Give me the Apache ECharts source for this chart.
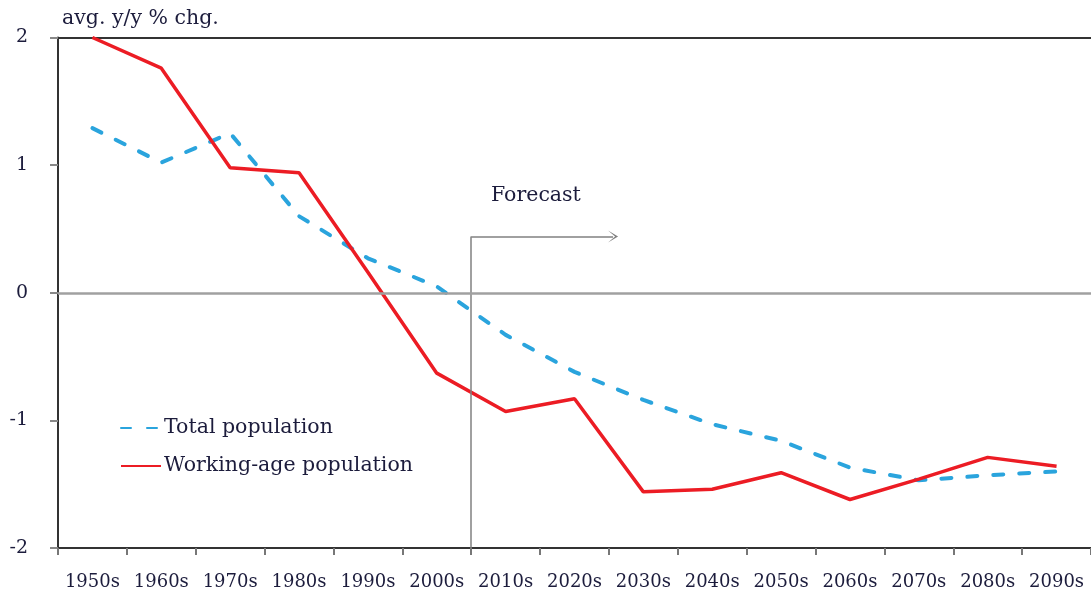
<!DOCTYPE html>
<html>
<head>
<meta charset="utf-8">
<script src="https://cdn.jsdelivr.net/npm/echarts@6/dist/echarts.min.js"></script>
<style>html,body{margin:0;padding:0;background:#fff}#c{width:1091px;height:597px}</style>
</head>
<body>
<div id="c"></div>
<script>
const categories = ['1950s','1960s','1970s','1980s','1990s','2000s','2010s','2020s','2030s','2040s','2050s','2060s','2070s','2080s','2090s'];
const totalPopulation = [1.29, 1.02, 1.25, 0.60, 0.27, 0.05, -0.33, -0.62, -0.84, -1.03, -1.16, -1.37, -1.47, -1.43, -1.40];
const workingAgePopulation = [2.00, 1.76, 0.98, 0.94, 0.16, -0.63, -0.93, -0.83, -1.56, -1.54, -1.41, -1.62, -1.46, -1.29, -1.36];
const yTicks = { min: -2, max: 2, interval: 1 };
const forecastStart = 6;      // boundary between 2000s and 2010s (category index units)
const forecastArrowEnd = 8.06;
const forecastLevel = 0.44;

const serif = '"DejaVu Serif", "Liberation Serif", serif';
const textColor = '#1c1c3c';

const chart = echarts.init(document.getElementById('c'));
chart.setOption({
  animation: false,
  backgroundColor: '#fff',
  grid: { left: 58, right: -2, top: 37.5, bottom: 49, containLabel: false },
  legend: {
    orient: 'vertical', left: 115, top: 411, padding: 5,
    itemWidth: 40, itemHeight: 14, itemGap: 14,
    itemStyle: { opacity: 0 },
    textStyle: { fontFamily: serif, fontSize: 20.5, color: textColor, lineHeight: 24, padding: [0, 0, 0, -2] },
    data: ['Total population', 'Working-age population']
  },
  xAxis: [
    {
      type: 'category', data: categories, position: 'bottom', boundaryGap: true,
      axisLine: { show: true, onZero: false, lineStyle: { color: '#333', width: 2 } },
      axisTick: { show: true, length: 7, lineStyle: { color: '#777', width: 2 } },
      axisLabel: { fontFamily: serif, fontSize: 18, color: textColor, margin: 25, interval: 0 },
      splitLine: { show: false }
    },
    {
      type: 'category', data: categories, position: 'top', boundaryGap: true,
      axisLine: { show: true, onZero: false, lineStyle: { color: '#333', width: 2 } },
      axisTick: { show: false }, axisLabel: { show: false }, splitLine: { show: false }
    },
    { type: 'value', min: 0, max: categories.length, show: false }
  ],
  yAxis: {
    type: 'value', min: yTicks.min, max: yTicks.max, interval: yTicks.interval,
    axisLine: { show: true, onZero: false, lineStyle: { color: '#333', width: 2 } },
    axisTick: { show: true, length: 8, lineStyle: { color: '#888', width: 2 } },
    axisLabel: { fontFamily: serif, fontSize: 19, color: textColor, margin: 30 },
    splitLine: { show: false }
  },
  series: [
    {
      name: 'Total population', type: 'line', data: totalPopulation,
      symbol: 'none', smooth: false,
      lineStyle: { color: '#2aa4dd', width: 4, type: [10, 16], cap: 'round' },
      itemStyle: { color: '#2aa4dd' }, z: 3
    },
    {
      name: 'Working-age population', type: 'line', data: workingAgePopulation,
      symbol: 'none', smooth: false,
      lineStyle: { color: '#ec1c24', width: 3.5 },
      itemStyle: { color: '#ec1c24' }, z: 4
    },
    {
      name: 'annot', type: 'line', xAxisIndex: 2, data: [], z: 2,
      markLine: {
        silent: true, animation: false,
        label: { show: false },
        data: [
          [{ coord: [forecastStart, forecastLevel], symbol: 'none' }, { coord: [forecastStart, yTicks.min], symbol: 'none' }],
          [{ coord: [forecastStart, forecastLevel], symbol: 'none' },
           { coord: [forecastArrowEnd, forecastLevel], symbol: 'path://M0,10 L5,0 L10,10 L5,3 Z', symbolSize: [12, 10], itemStyle: { color: '#333' } }],
          [{ coord: [0, 0], symbol: 'none', lineStyle: { color: '#a0a0a0', width: 2.5 } }, { coord: [categories.length, 0], symbol: 'none' }]
        ],
        lineStyle: { color: '#808080', width: 1.5, type: 'solid' }
      }
    }
  ],
  graphic: [
    { type: 'text', left: 62, top: 8, style: { text: 'avg. y/y % chg.', font: '20.5px ' + serif, fill: textColor } },
    { type: 'text', left: 491, top: 185, style: { text: 'Forecast', font: '20.5px ' + serif, fill: textColor } }
  ]
});
</script>
</body>
</html>
